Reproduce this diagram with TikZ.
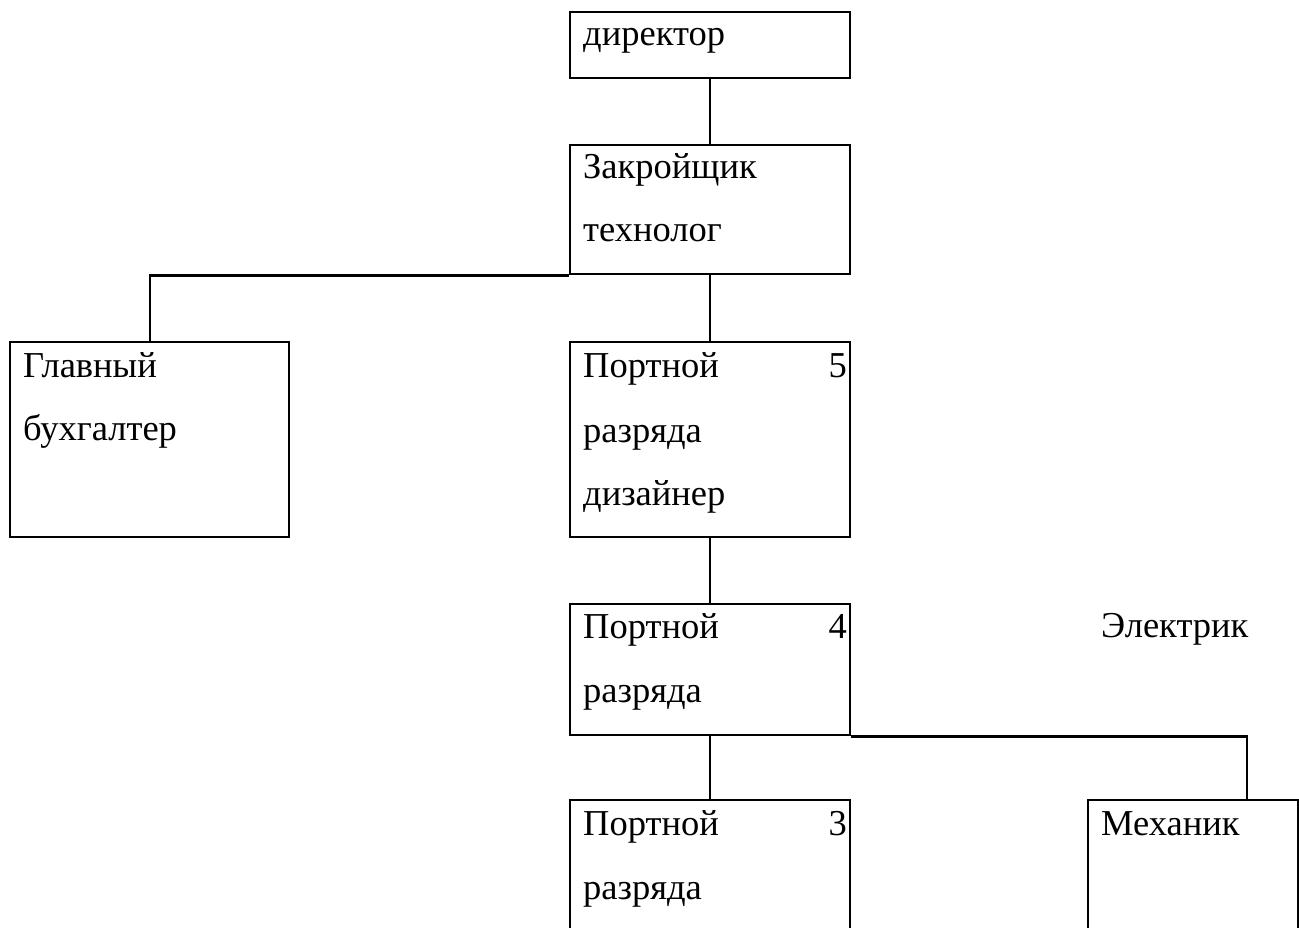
\documentclass[tikz,border=0pt]{standalone}
\usepackage{fontspec}
\setmainfont{Liberation Serif}
\begin{document}
\begin{tikzpicture}[x=1pt,y=-1pt,
  box/.style={draw, line width=2.4pt, anchor=north west, inner sep=0pt, minimum width=280pt},
  lbl/.style={anchor=base west, inner sep=0pt, font=\fontsize{36.5}{42}\selectfont},
  num/.style={anchor=base east, inner sep=0pt, font=\fontsize{36.5}{42}\selectfont},
  conn/.style={line width=2.4pt}]
\useasboundingbox (0,0) rectangle (1299,928);
\clip (0,0) rectangle (1299,928);
% boxes
\node[box, minimum height=66pt] (dir) at (569,11) {};
\node[box, minimum height=129pt] (zak) at (569,144) {};
\node[box, minimum height=195pt, minimum width=279pt] (glav) at (9,341) {};
\node[box, minimum height=195pt] (p5) at (569,341) {};
\node[box, minimum height=131pt] (p4) at (569,603) {};
\node[box, minimum height=200pt] (p3) at (569,799) {};
\node[box, minimum height=200pt, minimum width=210pt] (mech) at (1087,799) {};
\coordinate (mj) at (1247,799);
% texts
\node[lbl] (t1) at (583,46) {директор};
\node[lbl] (t2) at (583,179) {Закройщик};
\node[lbl] (t3) at (583,242) {технолог};
\node[lbl] (t4) at (23,377) {Главный};
\node[lbl] (t5) at (23,440) {бухгалтер};
\node[lbl] (t6) at (583,377) {Портной};
\node[num] (n5) at (847,377) {5};
\node[lbl] (t7) at (583,442) {разряда};
\node[lbl] (t8) at (583,505) {дизайнер};
\node[lbl] (t9) at (583,638) {Портной};
\node[num] (n4) at (847,638) {4};
\node[lbl] (t10) at (583,702) {разряда};
\node[lbl] (t11) at (1101,637) {Электрик};
\node[lbl] (t12) at (583,835) {Портной};
\node[num] (n3) at (847,835) {3};
\node[lbl] (t13) at (583,899) {разряда};
\node[lbl] (t14) at (1101,835) {Механик};
% connectors
\draw[conn] (dir.south) -- (zak.north);
\draw[conn] (zak.south west) -| (glav.north);
\draw[conn] (zak.south) -- (p5.north);
\draw[conn] (p5.south) -- (p4.north);
\draw[conn] (p4.south) -- (p3.north);
\draw[conn] (p4.south east) -| (mj);
\end{tikzpicture}
\end{document}
